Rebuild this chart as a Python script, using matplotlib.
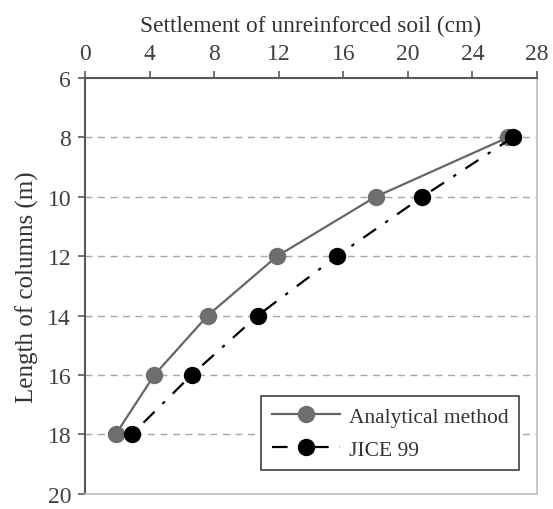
import matplotlib
matplotlib.use('Agg')
import matplotlib.pyplot as plt

# values
column_length = [8, 10, 12, 14, 16, 18]
analytical = [26.2, 18.0, 11.9, 7.6, 4.3, 1.9]
jice99 = [26.5, 20.9, 15.6, 10.7, 6.6, 2.9]

x_ticks = [0, 4, 8, 12, 16, 20, 24, 28]
y_ticks = [6, 8, 10, 12, 14, 16, 18, 20]

plt.rcParams['font.family'] = ['Liberation Serif', 'DejaVu Serif']

fig = plt.figure(figsize=(5.53, 5.10), dpi=100)
ax = fig.add_axes([0.1537, 0.03, 0.8173, 0.815])

for y in y_ticks[1:-1]:
    ax.axhline(y, color='#a6a6a6', linestyle=(0, (5, 4)), linewidth=1.0, zorder=1)

ax.plot(analytical, column_length, color='#666666', linewidth=1.6, marker='o',
        markersize=11.5, markerfacecolor='#6e6e6e', markeredgecolor='#6e6e6e',
        label='Analytical method', zorder=3)
ax.plot(jice99, column_length, color='black', linewidth=1.6, linestyle=(0, (7, 5, 1.5, 5)),
        marker='o', markersize=11.5, markerfacecolor='black', markeredgecolor='black',
        label='JICE 99', zorder=4)

ax.set_xlim(0, 28)
ax.set_ylim(20, 6)
ax.set_xticks(x_ticks)
ax.set_yticks(y_ticks)
ax.xaxis.tick_top()
ax.xaxis.set_label_position('top')
ax.tick_params(axis='both', direction='out', length=5, width=1.2, color='#595959',
               labelsize=17, labelcolor='#404040', pad=5)
ax.set_xlabel('Settlement of unreinforced soil (cm)', fontsize=16.8, color='#333333', labelpad=9)
ax.set_ylabel('Length of columns (m)', fontsize=18, color='#333333', labelpad=6)

ax.spines['left'].set_color('#595959')
ax.spines['top'].set_color('#595959')
ax.spines['left'].set_linewidth(1.5)
ax.spines['top'].set_linewidth(1.5)
ax.spines['right'].set_color('#bfbfbf')
ax.spines['bottom'].set_color('#bfbfbf')
ax.spines['right'].set_linewidth(1.2)
ax.spines['bottom'].set_linewidth(1.2)

leg = ax.legend(loc='lower right', bbox_to_anchor=(0.985, 0.03), fontsize=15.5,
                handlelength=3.2, fancybox=False, framealpha=1, edgecolor='#404040',
                borderpad=0.5, labelspacing=0.6, handletextpad=0.4)
leg.get_frame().set_linewidth(1.2)
for t in leg.get_texts():
    t.set_color('#333333')

fig.savefig('out.png', dpi=100)
